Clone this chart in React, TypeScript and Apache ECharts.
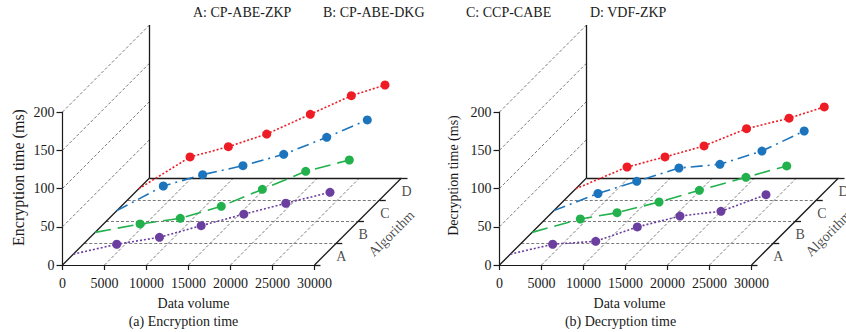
import React, { useEffect, useRef } from 'react';
import * as echarts from 'echarts';

// ---------------- data ----------------
const volumeTicks = [0, 5000, 10000, 15000, 20000, 25000, 30000];
const timeTicks = [0, 50, 100, 150, 200];
const algorithmCodes = ['A', 'B', 'C', 'D'];
const algorithmNames = ['A: CP-ABE-ZKP', 'B: CP-ABE-DKG', 'C: CCP-CABE', 'D: VDF-ZKP'];

// (a) Encryption time: data volume and time (ms) of each point
const encVolumeA = [5160, 10250, 15210, 20290, 25290, 30550];
const encTimeA = [12.9, 22.0, 37.2, 52.2, 66.5, 80.8];
const encVolumeB = [5350, 10140, 15020, 19910, 25070, 30260];
const encTimeB = [11.0, 18.4, 34.1, 56.3, 79.8, 94.6];
const encVolumeC = [5530, 10210, 15010, 19860, 24980, 29810];
const encTimeC = [32.2, 47.0, 58.7, 73.6, 95.8, 118.5];
const encVolumeD = [6120, 10680, 15250, 20440, 25320, 29330];
const encTimeD = [41.7, 55.1, 71.7, 97.5, 121.8, 135.8];

// (b) Decryption time
const decVolumeA = [5040, 10160, 15110, 20190, 25070, 30430];
const decTimeA = [12.9, 16.8, 35.5, 49.8, 56.0, 77.7];
const decVolumeB = [5740, 10110, 15110, 19910, 25460, 30310];
const decTimeB = [17.5, 25.7, 39.7, 55.0, 72.0, 86.8];
const decVolumeC = [5250, 9870, 14890, 19770, 24770, 29800];
const decTimeC = [22.4, 38.3, 55.7, 60.5, 77.9, 104.1];
const decVolumeD = [6120, 10640, 15290, 20350, 25410, 29600];
const decTimeD = [28.6, 41.7, 56.1, 78.7, 92.4, 107.1];

// ---------------- styles / layout ----------------
const COLORS = ['#6b3fa0', '#22b14c', '#1c75bc', '#ee1c25'];
const DASHES: any[] = [[2, 2], [16, 7], [12, 5, 2, 5], [2, 2]];
const FONT = '"Liberation Serif", "Times New Roman", serif';
const INK = '#1a1a1a';
const GRID_TOP = 112;
const GRID_W = 252;
const GRID_H = 153;
const DEPTH_PX = 87;
const TICK_PX = 6;
const EXT_X = 1.37; // hidden projection grid extends the x range by this factor
const EXT_Y = 1.6;  // and the y range by this one

const panels = [
  {
    left: 62.5,
    yName: 'Encryption time (ms)', yNameSize: 16, yNameGap: 36, yNameShift: 22, xNameShift: 10,
    caption: '(a) Encryption time', captionX: 183.5,
    volumes: [encVolumeA, encVolumeB, encVolumeC, encVolumeD],
    times: [encTimeA, encTimeB, encTimeC, encTimeD],
  },
  {
    left: 499.5,
    yName: 'Decryption time (ms)', yNameSize: 14, yNameGap: 39, yNameShift: 26, xNameShift: 8,
    caption: '(b) Decryption time', captionX: 620.5,
    volumes: [decVolumeA, decVolumeB, decVolumeC, decVolumeD],
    times: [decTimeA, decTimeB, decTimeC, decTimeD],
  },
];
const legendX = [193, 323, 466, 590];

function buildOption() {
  const xMax = volumeTicks[volumeTicks.length - 1];
  const yMax = timeTicks[timeTicks.length - 1];
  const DX = (DEPTH_PX * xMax) / GRID_W;
  const DY = (DEPTH_PX * yMax) / GRID_H;
  const TICK = (TICK_PX * xMax) / GRID_W;
  const n = algorithmCodes.length;
  const proj = (x: number, dep: number, v: number) => [x + dep * DX, v + dep * DY];
  const seg = (a: number[], b: number[]) => ({ coords: [a, b] });

  const grids: any[] = [];
  const xAxes: any[] = [];
  const yAxes: any[] = [];
  const series: any[] = [];
  const graphics: any[] = [];
  const np = panels.length;

  // visible axes (grids 0..np-1)
  panels.forEach((p, pi) => {
    grids.push({ left: p.left, top: GRID_TOP, width: GRID_W, height: GRID_H });
    xAxes.push({
      gridIndex: pi, type: 'value', min: 0, max: xMax, interval: volumeTicks[1] - volumeTicks[0],
      axisLine: { show: true, onZero: false, lineStyle: { color: INK, width: 1.2 } },
      axisTick: { show: true, length: 5, lineStyle: { color: INK, width: 1.2 } },
      axisLabel: { margin: 11, fontFamily: FONT, fontSize: 14, color: INK, formatter: (v: number) => String(v) },
      splitLine: { show: false },
      name: 'Data volume', nameLocation: 'middle', nameGap: 31,
      nameTextStyle: { fontFamily: FONT, fontSize: 14, color: INK, padding: [0, 0, 0, p.xNameShift] },
    });
    yAxes.push({
      gridIndex: pi, type: 'value', min: 0, max: yMax, interval: timeTicks[1] - timeTicks[0],
      axisLine: { show: true, onZero: false, lineStyle: { color: INK, width: 1.2 } },
      axisTick: { show: true, length: 6, lineStyle: { color: INK, width: 1.2 } },
      axisLabel: { margin: 8, fontFamily: FONT, fontSize: 14, color: INK, formatter: (v: number) => String(v) },
      splitLine: { show: false },
      name: p.yName, nameLocation: 'middle', nameGap: p.yNameGap,
      nameTextStyle: { fontFamily: FONT, fontSize: p.yNameSize, color: INK, padding: [0, 0, 0, p.yNameShift] },
    });
  });

  // hidden projection grids (np..2np-1), same scale, larger extent
  panels.forEach((p, pi) => {
    const gi = np + pi;
    const hidW = GRID_W * EXT_X;
    const hidH = GRID_H * EXT_Y;
    grids.push({ left: p.left, top: GRID_TOP + GRID_H - hidH, width: hidW, height: hidH });
    xAxes.push({ gridIndex: gi, type: 'value', min: 0, max: xMax * EXT_X, show: false });
    yAxes.push({ gridIndex: gi, type: 'value', min: 0, max: yMax * EXT_Y, show: false });

    const solid: any[] = [
      seg(proj(0, 0, 0), proj(0, 1, 0)),
      seg(proj(0, 1, 0), proj(xMax, 1, 0)),
      seg(proj(xMax, 0, 0), proj(xMax, 1, 0)),
      seg(proj(0, 1, 0), proj(0, 1, yMax)),
    ];
    for (let k = 0; k <= n; k++) solid.push(seg(proj(xMax, k / n, 0), proj(xMax + TICK, k / n, 0)));

    const dashed: any[] = [];
    timeTicks.slice(1).forEach((v) => dashed.push(seg(proj(0, 0, v), proj(0, 1, v))));
    volumeTicks.slice(1, -1).forEach((x) => dashed.push(seg(proj(x, 0, 0), proj(x, 1, 0))));
    for (let k = 1; k < n; k++) dashed.push(seg(proj(0, k / n, 0), proj(xMax, k / n, 0)));

    const common = { xAxisIndex: gi, yAxisIndex: gi, silent: true, clip: false };
    series.push({
      ...common, type: 'lines', coordinateSystem: 'cartesian2d', z: 1, polyline: false,
      lineStyle: { color: '#7a7a7a', width: 1, type: [3, 2], opacity: 1, curveness: 0 },
      data: dashed,
    });
    series.push({
      ...common, type: 'lines', coordinateSystem: 'cartesian2d', z: 2, polyline: false,
      lineStyle: { color: INK, width: 1.3, opacity: 1, curveness: 0 },
      data: solid,
    });
    series.push({
      ...common, type: 'scatter', z: 3,
      symbolSize: 1, itemStyle: { color: 'rgba(0,0,0,0)' },
      label: { show: true, formatter: '{b}', position: 'inside', offset: [16, 2.5], fontFamily: FONT, fontSize: 14, color: INK },
      data: algorithmCodes.map((c, i) => ({ name: c, value: proj(xMax, (i + 0.5) / n, 0) })),
    });
    series.push({
      ...common, type: 'scatter', z: 3,
      symbolSize: 1, itemStyle: { color: 'rgba(0,0,0,0)' },
      label: { show: true, formatter: '{b}', position: 'inside', rotate: 45, offset: [15.2, 32.2], fontFamily: FONT, fontSize: 14, color: INK },
      data: [{ name: 'Algorithm', value: proj(xMax, 0.5, 0) }],
    });

    algorithmCodes.forEach((_, i) => {
      const d = (i + 0.5) / n;
      const vols = p.volumes[i];
      const ts = p.times[i];
      series.push({
        ...common, type: 'line', name: algorithmNames[i], z: 5,
        symbol: 'circle', symbolSize: 9, showAllSymbol: true,
        lineStyle: { color: COLORS[i], width: 1.6, type: DASHES[i] },
        itemStyle: { color: COLORS[i] },
        data: [{ value: proj(0, d, 0), symbol: 'none' }, ...vols.map((x, j) => proj(x, d, ts[j]))],
      });
    });

    graphics.push({
      type: 'text', x: p.captionX, y: 321,
      style: { text: p.caption, font: `14px ${FONT}`, fill: INK, align: 'center', verticalAlign: 'middle' },
    });
  });

  algorithmNames.forEach((t, i) => {
    graphics.push({
      type: 'text', x: legendX[i], y: 12,
      style: { text: t, font: `14px ${FONT}`, fill: INK, align: 'left', verticalAlign: 'middle' },
    });
  });

  return {
    animation: false,
    textStyle: { fontFamily: FONT },
    grid: grids,
    xAxis: xAxes,
    yAxis: yAxes,
    series,
    graphic: graphics,
  };
}

export default function App() {
  const ref = useRef<HTMLDivElement>(null);
  useEffect(() => {
    if (!ref.current) return;
    const chart = echarts.init(ref.current, undefined, { renderer: 'svg' });
    chart.setOption(buildOption() as any);
    return () => chart.dispose();
  }, []);
  return <div ref={ref} style={{ position: 'absolute', left: 0, top: 0, width: 846, height: 332, background: '#fff' }} />;
}
